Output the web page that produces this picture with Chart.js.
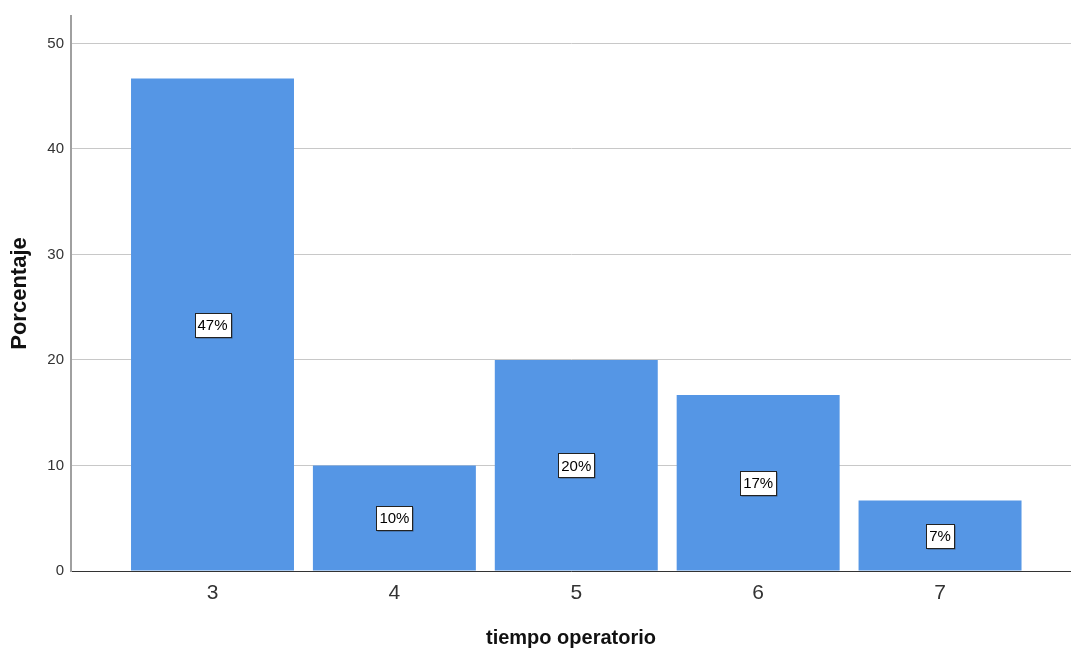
<!DOCTYPE html>
<html>
<head>
<meta charset="utf-8">
<script src="https://cdn.jsdelivr.net/npm/chart.js@4.4.1/dist/chart.umd.min.js"></script>
<style>
  html, body { margin: 0; padding: 0; background: #fff; }
  #wrap { width: 1071px; height: 650px; }
</style>
</head>
<body>
<div id="wrap"><canvas id="c" width="1071" height="650"></canvas></div>
<script>
// tiempo operatorio (horas) y porcentaje de pacientes
const categories = [3, 4, 5, 6, 7];
const percentages = [46.67, 10, 20, 16.67, 6.67];
const valueLabels = ['47%', '10%', '20%', '17%', '7%'];
const yTicks = [0, 10, 20, 30, 40, 50];

const FONT = "'Liberation Sans', Arial, sans-serif";

// White boxed percentage labels at the middle of each bar
const boxLabels = {
  id: 'boxLabels',
  afterDatasetsDraw(chart) {
    const ctx = chart.ctx;
    const meta = chart.getDatasetMeta(0);
    const xs = chart.scales.x, ys = chart.scales.y;
    ctx.save();
    ctx.font = '15px ' + "'Liberation Sans Narrow', " + FONT;
    ctx.textAlign = 'center';
    ctx.textBaseline = 'middle';
    meta.data.forEach((bar, i) => {
      const cx = xs.getPixelForValue(categories[i]);
      const cy = ys.getPixelForValue(percentages[i] / 2);
      const txt = valueLabels[i];
      const w = Math.round(ctx.measureText(txt).width) + 6;
      const h = 24;
      const x0 = Math.round(cx - w / 2) + 0.5, y0 = Math.round(cy - h / 2) + 0.5;
      // soft drop shadow on the right/bottom edge
      ctx.fillStyle = 'rgba(40,40,40,0.55)';
      ctx.fillRect(x0 + 1, y0 + 1, w, h);
      ctx.fillStyle = '#ffffff';
      ctx.fillRect(x0, y0, w, h);
      ctx.strokeStyle = '#222';
      ctx.lineWidth = 1;
      ctx.strokeRect(x0, y0, w, h);
      ctx.fillStyle = '#000';
      ctx.fillText(txt, cx, cy + 1);
    });
    ctx.restore();
  }
};

new Chart(document.getElementById('c'), {
  type: 'bar',
  data: {
    datasets: [{
      data: categories.map((c, i) => ({ x: c, y: percentages[i] })),
      backgroundColor: '#5596E5',
      borderWidth: 0,
      barPercentage: 0.896,
      categoryPercentage: 1.0
    }]
  },
  options: {
    responsive: false,
    animation: false,
    layout: { padding: { top: 13, right: 0, left: 0, bottom: 0 } },
    plugins: { legend: { display: false }, tooltip: { enabled: false } },
    scales: {
      x: {
        type: 'linear',
        offset: false,
        min: 2.222,
        max: 7.72,
        afterBuildTicks(scale) { scale.ticks = categories.map(v => ({ value: v })); },
        grid: { display: false, drawTicks: false, offset: false },
        border: { display: true, color: '#333', width: 1 },
        ticks: { color: '#333', font: { family: FONT, size: 21 }, padding: 10 },
        title: {
          display: true,
          text: 'tiempo operatorio',
          color: '#111',
          font: { family: FONT, size: 20, weight: 'bold' },
          padding: { top: 9, bottom: 0 }
        },
        afterFit(scale) { scale.height = 79; }
      },
      y: {
        min: 0,
        max: 52.6,
        afterBuildTicks(scale) { scale.ticks = yTicks.map(v => ({ value: v })); },
        grid: { color: '#c8c8c8', lineWidth: 1, drawTicks: false },
        border: { display: true, color: '#a0a0a0', width: 2 },
        ticks: { color: '#333', font: { family: FONT, size: 15 }, padding: 7 },
        title: {
          display: true,
          text: 'Porcentaje',
          color: '#111',
          font: { family: FONT, size: 22, weight: 'bold' },
          padding: { top: 7, bottom: 0 }
        },
        afterFit(scale) { scale.width = 71; }
      }
    }
  },
  plugins: [boxLabels]
});
</script>
</body>
</html>
